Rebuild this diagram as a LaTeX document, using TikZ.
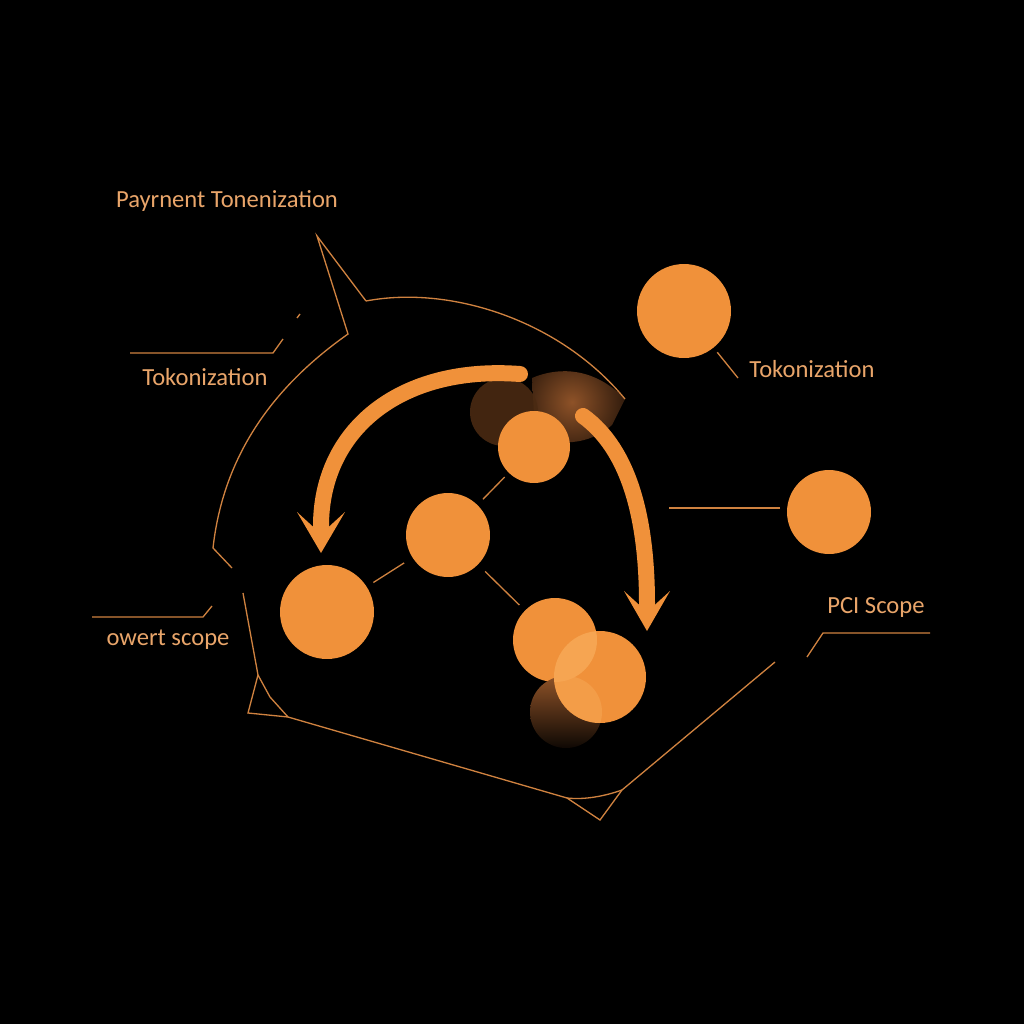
\documentclass[tikz,border=0pt]{standalone}
\usepackage{fontspec}
\setmainfont{Carlito}
\usetikzlibrary{calc}
\usetikzlibrary{positioning}
\definecolor{tokorange}{HTML}{F0913A}
\definecolor{toklight}{HTML}{F6A552}
\definecolor{toktext}{HTML}{E9A56A}
\definecolor{tokline}{HTML}{CF8240}
\definecolor{tokbrown}{HTML}{4A2A12}
\definecolor{tokglow}{HTML}{8E5228}
\definecolor{tokdark}{HTML}{2E1A0C}

\tikzset{
  tokdot/.style={circle, fill=tokorange, minimum size=#1, inner sep=0pt, outer sep=0pt},
  leader/.style={draw=tokline, line width=0.75pt},
  flow/.style={draw=tokorange, line width=0.32cm, line cap=round},
  label/.style={text=toktext, font=\fontsize{14}{16}\selectfont, inner sep=0pt}
}

\begin{document}
\begin{tikzpicture}[x=0.02cm, y=-0.02cm]
  \fill[black] (0,0) rectangle (1024,1024);
  \useasboundingbox (0,0) rectangle (1024,1024);

  % glow
  \begin{scope}
    \clip (532,378) .. controls (560,366) and (595,368) .. (625,399)
      -- (612,425) .. controls (590,445) and (555,448) .. (535,432) -- cycle;
    \shade[inner color=tokglow, outer color=tokdark] (572,402) circle (55);
  \end{scope}
  \fill[tokbrown, opacity=0.9] (504,412) circle (34);

  % scope outline
  \draw[leader] (366,301) -- (317,236) -- (348,334)
    .. controls (290,375) and (225,440) .. (213,548) -- (232,568);
  \draw[leader] (366,301) .. controls (450,285) and (560,320) .. (625,399);
  \draw[leader] (243,593) -- (258,675) -- (248,713) -- (288,717)
    -- (567,798) -- (600,820) -- (622,790) -- (775,662);
  \draw[leader] (258,675) -- (270,697) -- (288,717);
  \draw[leader] (567,798) .. controls (585,800) and (605,796) .. (622,790);
  \draw[leader] (297,318) -- (300,314);

  % label leaders
  \draw[leader] (130,353) -- (273,353) -- (283,339);
  \draw[leader] (92,617) -- (203,617) -- (212,606);
  \draw[leader] (807,657) -- (823,633) -- (930,633);

  % circles
  \node[tokdot=1.88cm] (c1) at (684,311) {};
  \node[tokdot=1.68cm] (c2) at (829,512) {};
  \node[tokdot=1.44cm] (c3) at (534,447) {};
  \node[tokdot=1.68cm] (c4) at (448,535) {};
  \node[tokdot=1.88cm] (c5) at (327,612) {};
  \node[tokdot=1.68cm] (c6) at (555,640) {};
  \shade[top color=tokglow, bottom color=black!80!tokbrown] (566,712) circle (36);
  \node[tokdot=1.84cm] (c7) at (600,677) {};
  \begin{scope}
    \clip (555,640) circle (42);
    \fill[toklight] (600,677) circle (46);
  \end{scope}
  \begin{scope}
    \clip (566,712) circle (36);
    \fill[toklight, opacity=0.6] (600,677) circle (46);
  \end{scope}

  \draw[leader, shorten <=0.12cm, shorten >=0.16cm] (c3) -- (c4);
  \draw[leader, shorten <=0.2cm, shorten >=0.16cm] (c4) -- (c5);
  \draw[leader, shorten <=0.2cm, shorten >=0.16cm] (c4) -- (c6);

  \coordinate (t1) at (738,378);
  \coordinate (t2) at (780,508);
  \draw[leader, shorten <=0.12cm] (c1) -- (t1);
  \draw[leader, shorten >=0.28cm] (t2) -- ($(t2)+(-125,0)$);

  % arrows
  \coordinate (a1s) at (520,374);
  \coordinate (a1e) at (321,526);
  \coordinate (a2s) at (583,416);
  \coordinate (a2e) at (647,604);
  \draw[flow] (a1s) .. controls (400,365) and (321,430) .. (a1e);
  \fill[tokorange] (297,512) -- (321,534) -- (345,512) -- (321,553) -- cycle;
  \draw[flow] (a2s) .. controls (630,450) and (647,520) .. (a2e);
  \fill[tokorange] (624,591) -- (647,612) -- (670,591) -- (647,631) -- cycle;

  % texts
  \node[label] (title) at (227,201) {Payrnent Tonenization};
  \node[label] (tokl) at (205,377) {Tokonization};
  \node[label] (tokr) at (812,369) {Tokonization};
  \node[label] (owert) at (168,640) {owert scope};
  \node[label] (pci) at (876,607) {PCI Scope};
\end{tikzpicture}
\end{document}
